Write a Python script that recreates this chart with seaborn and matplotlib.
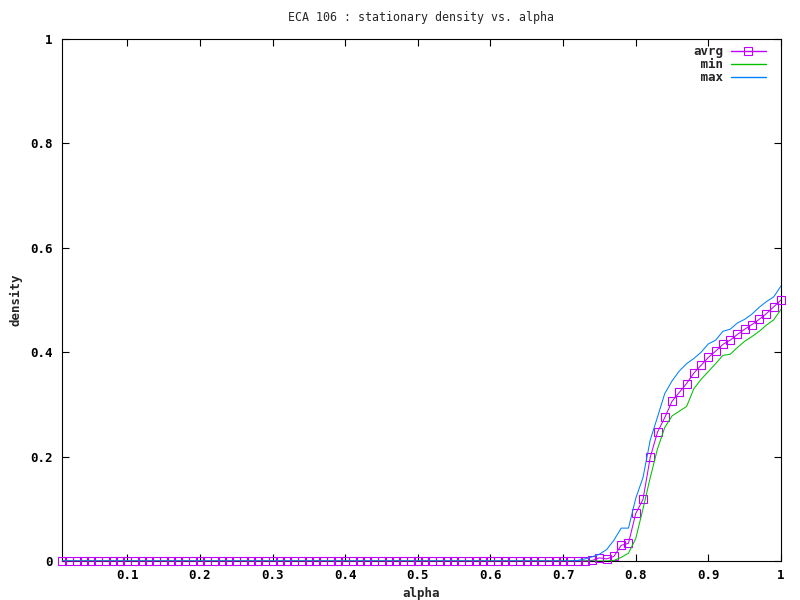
import numpy as np
import pandas as pd
import seaborn as sns
import matplotlib
matplotlib.use("Agg")
import matplotlib.pyplot as plt

# ---- data ----
alpha = [round(0.01 * i, 2) for i in range(1, 101)]

avrg = [0.0] * 72 + [
    0.000, 0.001, 0.006, 0.004, 0.009, 0.030, 0.034, 0.091, 0.118, 0.199,
    0.247, 0.275, 0.306, 0.323, 0.340, 0.360, 0.375, 0.390, 0.402, 0.415,
    0.423, 0.434, 0.444, 0.453, 0.463, 0.474, 0.487, 0.500]

dmin = [0.0] * 76 + [
    0.001, 0.007, 0.015, 0.043, 0.100, 0.160, 0.215, 0.256, 0.278, 0.287,
    0.296, 0.330, 0.348, 0.363, 0.378, 0.394, 0.396, 0.409, 0.421, 0.430,
    0.440, 0.452, 0.462, 0.482]

dmax = [0.0] * 71 + [
    0.001, 0.004, 0.008, 0.013, 0.022, 0.040, 0.063, 0.063, 0.120, 0.160,
    0.232, 0.276, 0.321, 0.345, 0.364, 0.378, 0.388, 0.400, 0.416, 0.423,
    0.440, 0.444, 0.456, 0.463, 0.473, 0.486, 0.497, 0.506, 0.527]

xticks = [0.1, 0.2, 0.3, 0.4, 0.5, 0.6, 0.7, 0.8, 0.9, 1.0]
xticklabels = ["0.1", "0.2", "0.3", "0.4", "0.5", "0.6", "0.7", "0.8", "0.9", "1"]
yticks = [0, 0.2, 0.4, 0.6, 0.8, 1.0]
yticklabels = ["0", "0.2", "0.4", "0.6", "0.8", "1"]

df = pd.DataFrame({"alpha": alpha, "avrg": avrg, "min": dmin, "max": dmax})

sns.set_style("ticks")
plt.rcParams["font.family"] = ["DejaVu Sans Mono", "DejaVu Sans"]

fig = plt.figure(figsize=(8, 6), dpi=100)
ax = fig.add_axes([62 / 800, 1 - 561 / 600, (781 - 62) / 800, (561 - 39) / 600])

lw = 0.75
colors = {"avrg": "#c000ff", "min": "#00c000", "max": "#0080ff"}
sns.lineplot(data=df, x="alpha", y="avrg", ax=ax, color=colors["avrg"], lw=lw,
             marker="s", markersize=6.0, markerfacecolor="none",
             markeredgecolor=colors["avrg"], markeredgewidth=0.8,
             label="avrg", clip_on=False, zorder=3)
sns.lineplot(data=df, x="alpha", y="min", ax=ax, color=colors["min"], lw=lw,
             label=" min", zorder=4)
sns.lineplot(data=df, x="alpha", y="max", ax=ax, color=colors["max"], lw=lw,
             label=" max", zorder=5)

ax.set_xlim(0.01, 1.0)
ax.set_ylim(0, 1)
ax.set_xticks(xticks)
ax.set_xticklabels(xticklabels)
ax.set_yticks(yticks)
ax.set_yticklabels(yticklabels)

for s in ax.spines.values():
    s.set_visible(True)
    s.set_linewidth(0.8)
    s.set_color("black")
    s.set_zorder(2)

ax.tick_params(direction="in", length=5, width=0.8, top=True, right=True,
               labelsize=9, colors="black")
ax.tick_params(axis="x", pad=5.5)
ax.tick_params(axis="y", pad=7)
for t in ax.get_xticklabels() + ax.get_yticklabels():
    t.set_fontweight("bold")

ax.set_xlabel("alpha", fontsize=9, fontweight="bold", labelpad=3.5)
ax.set_ylabel("density", fontsize=9, fontweight="bold", labelpad=5.5)
ax.set_title("ECA 106 : stationary density vs. alpha", fontsize=8.4, pad=13)

leg = ax.legend(loc="upper right", bbox_to_anchor=(0.9826, 0.9933),
                frameon=False, markerfirst=False,
                prop={"family": "DejaVu Sans Mono", "weight": "bold", "size": 9},
                handlelength=2.8, handletextpad=0.6, labelspacing=0.0,
                borderaxespad=0.0, borderpad=0.2)
for line, key in zip(leg.get_lines(), ["avrg", "min", "max"]):
    line.set_color(colors[key])
    line.set_linewidth(1.0)

fig.savefig("out.png", dpi=100)
